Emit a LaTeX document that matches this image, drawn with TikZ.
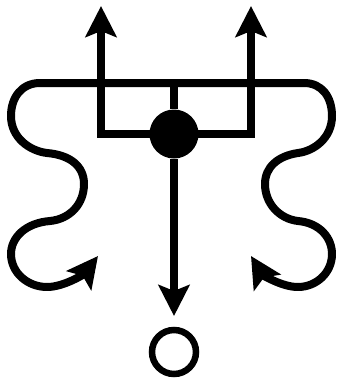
\documentclass[tikz,border=0pt]{standalone}
\usetikzlibrary{arrows.meta}
\begin{document}
\begin{tikzpicture}[x=1pt,y=-1pt,
  ln/.style={line width=8pt,line join=round},
  tipB/.style={-{Stealth[length=31pt,width=31pt,inset=6pt]}},
  hubnode/.style={circle,fill=black,inner sep=0pt,minimum size=49pt},
  ringnode/.style={circle,draw=black,line width=6.5pt,inner sep=0pt,minimum size=44pt}]
\useasboundingbox (0,0) rectangle (338,378);
% coordinates
\coordinate (topmid) at (174,83);
\coordinate (tipL) at (101,6);
\coordinate (tipR) at (251,6);
\coordinate (cornerL) at (101,134);
\coordinate (cornerR) at (251,134);
\coordinate (tipC) at (174,316);
\coordinate (curlL) at (98,256);
\coordinate (curlR) at (251,256);
% left top line and squiggle
\draw[ln,tipB] (topmid) -- (40,83)
  .. controls (22,83) and (11,97) .. (11,116)
  .. controls (11,138) and (30,151) .. (47,153)
  .. controls (70,155) and (84,166) .. (84,184)
  .. controls (84,204) and (70,219) .. (50,221)
  .. controls (25,223) and (11,238) .. (11,254)
  .. controls (11,273) and (28,287) .. (47,287)
  .. controls (64,287) and (84,274) .. (curlL);
% right top line and squiggle
\draw[ln,tipB] (topmid) -- (304,83)
  .. controls (322,83) and (332,97) .. (332,116)
  .. controls (332,138) and (314,151) .. (298,153)
  .. controls (278,156) and (265,167) .. (265,184)
  .. controls (265,204) and (280,219) .. (298,221)
  .. controls (320,223) and (332,238) .. (332,254)
  .. controls (332,273) and (316,287) .. (298,287)
  .. controls (281,287) and (262,274) .. (curlR);
% bracket with two upward arrows
\draw[ln,line join=miter,{Stealth[length=31pt,width=31pt,inset=6pt]}-{Stealth[length=31pt,width=31pt,inset=6pt]}]
  (tipL) -- (cornerL) -- (cornerR) -- (tipR);
% hub
\node[hubnode] (hub) at (174,134) {};
\draw[ln] (topmid) -- (hub);
\draw[ln,tipB] (hub) -- (tipC);
% bottom ring
\node[ringnode] (ring) at (174,352) {};
\end{tikzpicture}
\end{document}
